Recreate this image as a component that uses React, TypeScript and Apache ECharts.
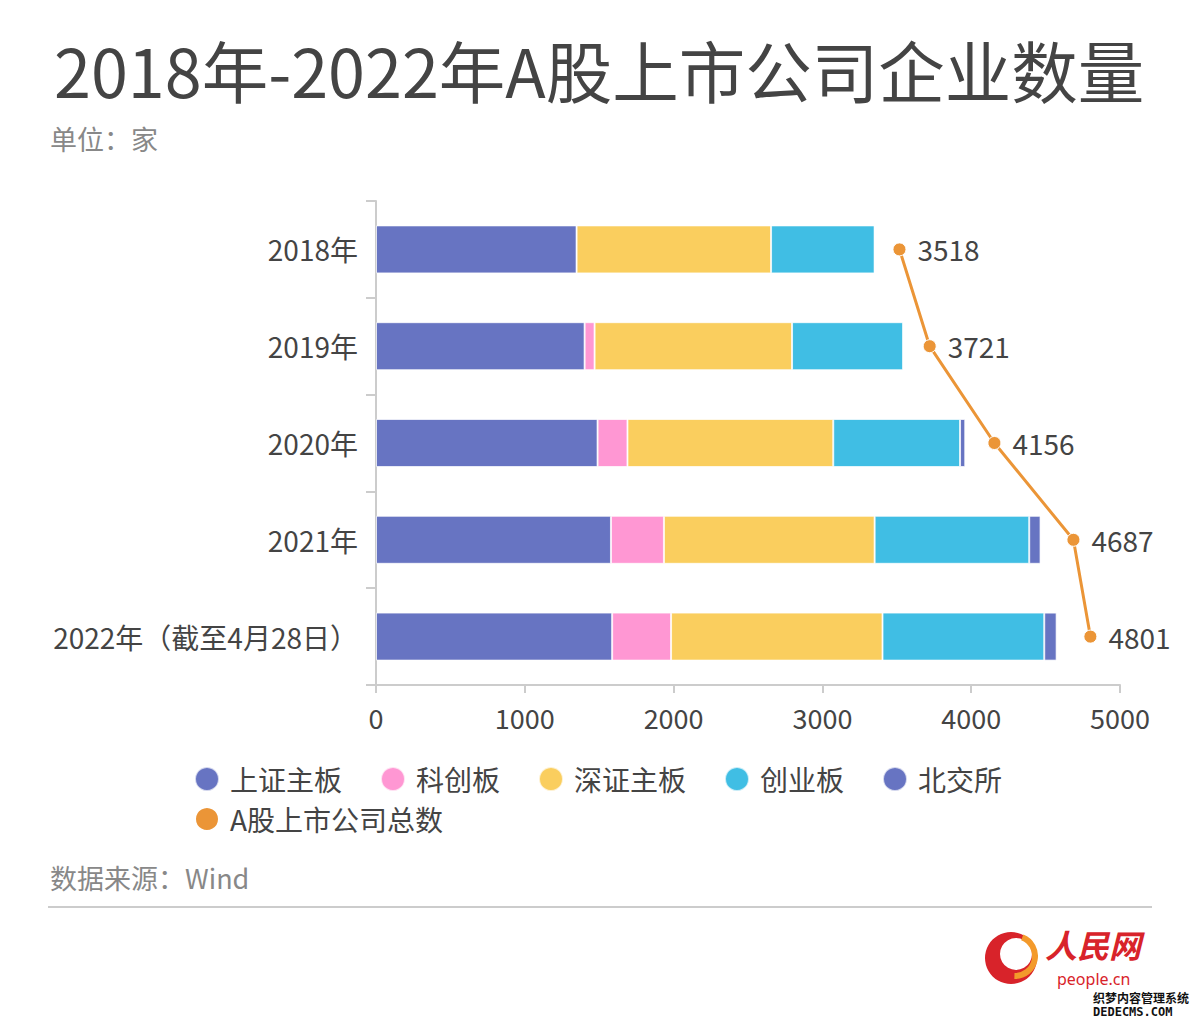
import React, { useEffect, useRef } from "react";
import * as echarts from "echarts";

const categories = ["2018年", "2019年", "2020年", "2021年", "2022年（截至4月28日）"];
const shMain = [1348, 1402, 1489, 1579, 1587];
const star = [0, 67, 201, 356, 396];
const szMain = [1307, 1327, 1383, 1416, 1421];
const chinext = [696, 747, 852, 1039, 1087];
const bse = [0, 0, 35, 76, 83];
const totals = [3518, 3721, 4156, 4687, 4801];
const xTicks = [0, 1000, 2000, 3000, 4000, 5000];
const legendRow1 = ["上证主板", "科创板", "深证主板", "创业板", "北交所"];
const legendRow2 = ["A股上市公司总数"];

const FONT = '"Noto Sans CJK SC", "Noto Sans", sans-serif';

export default function App() {
  const ref = useRef<HTMLDivElement>(null);
  useEffect(() => {
    if (!ref.current) return;
    const chart = echarts.init(ref.current, null, { renderer: "svg" });
    const barSeries = (name: string, data: number[], color: string) => ({
      name,
      type: "bar",
      stack: "total",
      data,
      barWidth: 48,
      itemStyle: { color, borderColor: "rgba(255,255,255,0.7)", borderWidth: 1 },
    });
    const legendBase = {
      left: 194,
      icon: "circle",
      itemWidth: 36,
      itemHeight: 24,
      itemGap: 38,
      padding: 0,
      textStyle: { fontSize: 28, color: "#444", fontFamily: FONT },
    };
    chart.setOption({
      animation: false,
      backgroundColor: "#fff",
      textStyle: { fontFamily: FONT },
      title: [
        {
          text: "2018年-2022年A股上市公司企业数量",
          left: 54,
          top: 36,
          padding: 0,
          textStyle: { fontSize: 66.5, fontWeight: "normal", color: "#444", fontFamily: FONT },
        },
        {
          text: "单位：家",
          left: 50,
          top: 125,
          padding: 0,
          textStyle: { fontSize: 27, fontWeight: "normal", color: "#888", fontFamily: FONT },
        },
        {
          text: "数据来源：Wind",
          left: 50,
          top: 864,
          padding: 0,
          textStyle: { fontSize: 27, fontWeight: "normal", color: "#888", fontFamily: FONT },
        },
      ],
      legend: [
        { ...legendBase, top: 765, data: legendRow1 },
        { ...legendBase, top: 805, data: legendRow2 },
      ],
      grid: { left: 376, right: 80, top: 201, bottom: 335, containLabel: false },
      xAxis: {
        type: "value",
        min: xTicks[0],
        max: xTicks[xTicks.length - 1],
        interval: 1000,
        axisLine: { show: true, lineStyle: { color: "#ccc", width: 2 } },
        axisTick: { show: true, length: 8, lineStyle: { color: "#ccc", width: 2 } },
        splitLine: { show: false },
        axisLabel: {
          fontSize: 27,
          color: "#444",
          margin: 19,
          fontFamily: FONT,
          formatter: (v: number) => String(v),
        },
      },
      yAxis: {
        type: "category",
        inverse: true,
        data: categories,
        axisLine: { show: true, lineStyle: { color: "#ccc", width: 2 } },
        axisTick: { show: true, length: 10, lineStyle: { color: "#ccc", width: 2 } },
        axisLabel: { fontSize: 28, color: "#444", margin: 18, fontFamily: FONT },
      },
      series: [
        barSeries("上证主板", shMain, "#6774C2"),
        barSeries("科创板", star, "#FF97D3"),
        barSeries("深证主板", szMain, "#FACE5E"),
        barSeries("创业板", chinext, "#40BEE4"),
        barSeries("北交所", bse, "#6774C2"),
        {
          name: "A股上市公司总数",
          type: "line",
          data: totals,
          symbol: "circle",
          symbolSize: 13,
          lineStyle: { color: "#EB9537", width: 3 },
          itemStyle: { color: "#EB9537", borderColor: "#fff", borderWidth: 1 },
          label: {
            show: true,
            position: "right",
            distance: 11,
            fontSize: 28,
            color: "#444",
            fontFamily: FONT,
          },
          z: 5,
        },
      ],
      graphic: [
        {
          type: "line",
          shape: { x1: 48, y1: 907, x2: 1152, y2: 907 },
          style: { stroke: "#ccc", lineWidth: 2 },
        },
        {
          type: "group",
          left: 985,
          top: 932,
          children: [
            { type: "circle", shape: { cx: 26, cy: 28, r: 26 }, style: { fill: "#D8232A" } },
            { type: "circle", shape: { cx: 31, cy: 24, r: 16 }, style: { fill: "#fff" } },
            { type: "arc", shape: { cx: 30, cy: 26, r: 20, startAngle: -1.2, endAngle: 1.6 }, style: { stroke: "#F39A2B", lineWidth: 6, fill: "none" } },
          ],
        },
        {
          type: "text",
          left: 1045,
          top: 928,
          style: { text: "人民网", font: 'italic bold 32px "Noto Sans CJK SC"', fill: "#D8232A" },
        },
        {
          type: "text",
          left: 1057,
          top: 971,
          style: { text: "people.cn", font: '16px "Noto Sans"', fill: "#D8232A" },
        },
        {
          type: "text",
          left: 1092,
          top: 990,
          style: { text: "织梦内容管理系统", font: 'bold 12px "Noto Sans CJK SC"', fill: "#111", stroke: "#fff", lineWidth: 2 },
        },
        {
          type: "text",
          left: 1092,
          top: 1005,
          style: { text: "DEDECMS.COM", font: 'bold 12px "DejaVu Sans Mono"', fill: "#111", stroke: "#fff", lineWidth: 2 },
        },
      ],
    });
    return () => chart.dispose();
  }, []);
  return <div ref={ref} style={{ width: 1200, height: 1020, position: "absolute", left: 0, top: 0 }} />;
}
